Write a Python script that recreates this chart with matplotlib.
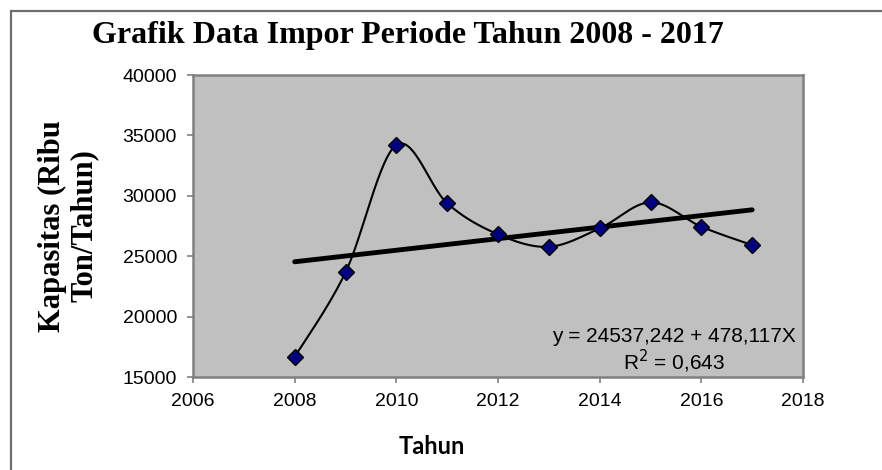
import numpy as np
import matplotlib
matplotlib.use("Agg")
import matplotlib.pyplot as plt
from matplotlib.patches import Rectangle

# data
tahun = [2008, 2009, 2010, 2011, 2012, 2013, 2014, 2015, 2016, 2017]
impor = [16660, 23660, 34210, 29380, 26810, 25780, 27300, 29460, 27440, 25920]

# trend line from the equation printed on the chart (X = 0 at 2008)
intercept = 24537.242
slope = 478.117
eq_text = "y = 24537,242 + 478,117X\nR$^2$ = 0,643"


def smooth_line(xs, ys, n=30):
    # Excel style smoothed line: bezier segments with catmull-rom control points
    xs = np.asarray(xs, float)
    ys = np.asarray(ys, float)
    px = np.concatenate([[xs[0]], xs, [xs[-1]]])
    py = np.concatenate([[ys[0]], ys, [ys[-1]]])
    out_x, out_y = [], []
    t = np.linspace(0, 1, n)
    for i in range(1, len(px) - 2):
        p0 = np.array([px[i], py[i]])
        p3 = np.array([px[i + 1], py[i + 1]])
        c1 = p0 + (np.array([px[i + 1], py[i + 1]]) - np.array([px[i - 1], py[i - 1]])) / 6
        c2 = p3 - (np.array([px[i + 2], py[i + 2]]) - np.array([px[i], py[i]])) / 6
        b = ((1 - t) ** 3)[:, None] * p0 + (3 * (1 - t) ** 2 * t)[:, None] * c1 \
            + (3 * (1 - t) * t ** 2)[:, None] * c2 + (t ** 3)[:, None] * p3
        out_x.extend(b[:, 0])
        out_y.extend(b[:, 1])
    return out_x, out_y


fig = plt.figure(figsize=(8.82, 4.70), dpi=100)
fig.patch.set_facecolor("white")

# outer chart frame (only top and left edges are visible)
fig.patches.append(Rectangle((11 / 882, -0.05), 1.2, (470 - 11) / 470 + 0.05,
                             transform=fig.transFigure, fill=False,
                             edgecolor="#6e6e6e", linewidth=1.6))

ax = fig.add_axes([193 / 882, 93 / 470, 610 / 882, 302 / 470])
ax.set_facecolor("#c0c0c0")

sx, sy = smooth_line(tahun, impor)
ax.plot(sx, sy, color="black", linewidth=1.5, zorder=2)

trend_x = np.array([tahun[0], tahun[-1]])
trend_y = intercept + slope * (trend_x - tahun[0])
ax.plot(trend_x, trend_y, color="black", linewidth=3.5, solid_capstyle="round", zorder=3)

ax.plot(tahun, impor, linestyle="none", marker="D", markersize=8,
        markerfacecolor="#000080", markeredgecolor="black", markeredgewidth=1, zorder=4)

ax.set_xlim(2006, 2018)
ax.set_ylim(15000, 40000)
ax.set_xticks(range(2006, 2019, 2))
ax.set_yticks(range(15000, 40001, 5000))

for s in ax.spines.values():
    s.set_color("#808080")
    s.set_linewidth(1.8)
ax.tick_params(direction="out", length=4.5, width=1.2, color="#808080",
               labelsize=14, pad=7)
for lab in ax.get_xticklabels() + ax.get_yticklabels():
    lab.set_fontfamily("Liberation Sans")

ax.text(796 / 882, 1 - 351 / 470, eq_text, transform=fig.transFigure,
        ha="right", va="center", fontsize=15, family="Liberation Sans",
        multialignment="center", linespacing=1.05)

fig.text(408 / 882, 1 - 35 / 470, "Grafik Data Impor Periode Tahun 2008 - 2017",
         ha="center", va="center", fontsize=23, fontweight="bold", family="Liberation Serif")
fig.text(68 / 882, 1 - 226 / 470, "Kapasitas (Ribu\nTon/Tahun)", rotation=90,
         ha="center", va="center", fontsize=22, fontweight="bold",
         family="Liberation Serif", linespacing=1.12)
fig.text(432 / 882, 1 - 446 / 470, "Tahun", ha="center", va="center",
         fontsize=17, fontweight="bold", family="Lato")

fig.savefig("out.png", dpi=100)
